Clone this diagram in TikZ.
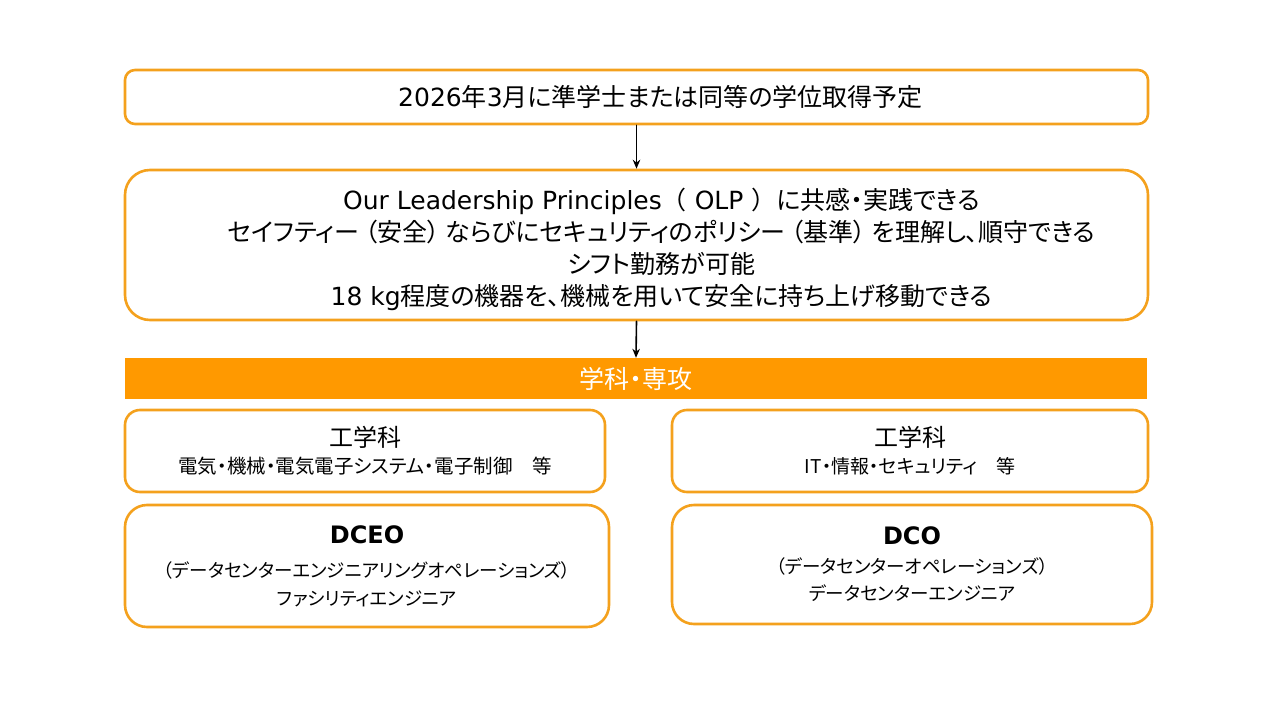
\documentclass[tikz,border=0pt]{standalone}
\usepackage{fontspec}
\setmainfont{Noto Sans CJK JP}[RawFeature=+palt]
\newfontfamily\jpfull{Noto Sans CJK JP}
\newfontfamily\lat{DejaVu Sans}
\usetikzlibrary{arrows.meta}
\definecolor{boxorange}{HTML}{F4A11D}
\definecolor{barorange}{HTML}{FF9900}
\begin{document}
\begin{tikzpicture}[x=1pt,y=-1pt,>={Stealth[length=9pt,width=7.5pt]},line join=round,line cap=round]
\tikzset{
  obox/.style={draw=boxorange,line width=2.6pt,rounded corners=#1,fill=white,align=center,inner sep=0pt},
  obox/.default=12pt,
  bigtxt/.style={align=center,inner sep=0pt,font=\fontsize{25}{32}\selectfont},
  smalltxt/.style={font=\fontsize{18.5}{27}\selectfont},
  link/.style={->,line width=1.6pt}
}
\useasboundingbox (0,0) rectangle (1280,720);
% requirements
\node[obox=10pt,minimum width=1023pt,minimum height=54pt] (req) at (636.5,97) {};
\node[bigtxt] (reqtext) at ([xshift=24pt]req.center) {{\lat 2026}年{\lat 3}月に準学士または同等の学位取得予定};
\node[obox=25pt,minimum width=1023pt,minimum height=150pt] (olp) at (636.5,245) {};
\node[bigtxt] (olptext) at ([xshift=25pt,yshift=-4pt]olp.center) {{\lat Our Leadership Principles}{\jpfull（}{\lat\ OLP\ }{\jpfull）}に共感・実践できる\\
  セイフティー （安全） ならびにセキュリティのポリシー （基準） を理解し、順守できる\\
  シフト勤務が可能\\
  {\lat 18 kg}程度の機器を、機械を用いて安全に持ち上げ移動できる};
% majors
\node[fill=barorange,minimum width=1022pt,minimum height=41pt,inner sep=0pt,text=white,font=\fontsize{25}{25}\selectfont] (major) at (636,378.5) {学科・専攻};
\node[obox=15pt,minimum width=480pt,minimum height=82pt,smalltxt,font=\fontsize{19.5}{27}\selectfont] (deptL) at (365,451) {{\fontsize{24}{24}\selectfont 工学科}\\
  電気・機械・電気電子システム・電子制御　等};
\node[obox=15pt,minimum width=476pt,minimum height=82pt,smalltxt,font=\fontsize{19}{27}\selectfont] (deptR) at (910,451) {{\fontsize{24}{24}\selectfont 工学科}\\
  IT・情報・セキュリティ　等};
% roles
\node[obox=22pt,minimum width=484pt,minimum height=122pt,smalltxt,font=\fontsize{18.5}{28}\selectfont] (roleL) at (367,566) {{\fontsize{24}{24}\selectfont\lat\bfseries DCEO}\\[6pt]
  （データセンターエンジニアリングオペレーションズ）\\
  ファシリティエンジニア};
\node[obox=22pt,minimum width=480pt,minimum height=119pt,smalltxt] (roleR) at (912,564.5) {{\fontsize{24}{24}\selectfont\lat\bfseries DCO}\\[2pt]
  （データセンターオペレーションズ）\\
  データセンターエンジニア};
\draw[link] (req.south) -- (olp.north);
\draw[link] (olp.south) -- (major.north);
\end{tikzpicture}
\end{document}
